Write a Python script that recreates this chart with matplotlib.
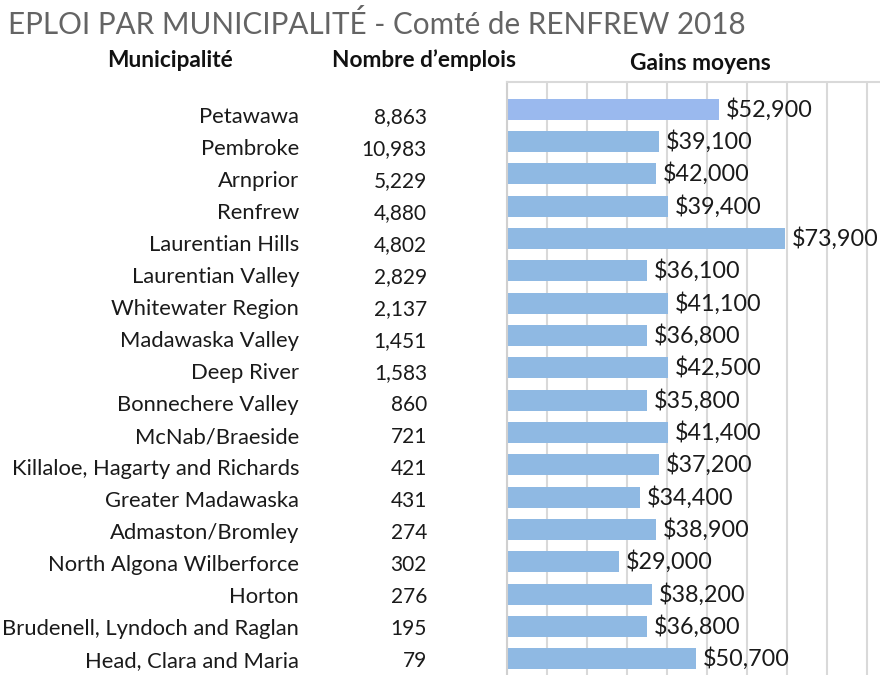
import matplotlib.pyplot as plt

# ---- Data ----
municipalities = [
    'Petawawa', 'Pembroke', 'Arnprior', 'Renfrew', 'Laurentian Hills',
    'Laurentian Valley', 'Whitewater Region', 'Madawaska Valley', 'Deep River',
    'Bonnechere Valley', 'McNab/Braeside', 'Killaloe, Hagarty and Richards',
    'Greater Madawaska', 'Admaston/Bromley', 'North Algona Wilberforce',
    'Horton', 'Brudenell, Lyndoch and Raglan', 'Head, Clara and Maria',
]
jobs = [8863, 10983, 5229, 4880, 4802, 2829, 2137, 1451, 1583,
        860, 721, 421, 431, 274, 302, 276, 195, 79]
earnings = [52900, 39100, 42000, 39400, 73900, 36100, 41100, 36800, 42500,
            35800, 41400, 37200, 34400, 38900, 29000, 38200, 36800, 50700]
# bar lengths as drawn in the original graphic (not exactly proportional to labels)
bar_lengths = [53000, 38000, 37300, 40400, 69600, 35000, 40250, 35000, 40250,
               35000, 40250, 38000, 33300, 37300, 28000, 36300, 35000, 47300]

W, H = 880, 675
fig = plt.figure(figsize=(W / 100, H / 100), dpi=100)
plt.rcParams['font.family'] = ['Lato', 'DejaVu Sans']

# bar axes
ax_left, ax_top = 506.7, 82
ax = fig.add_axes([ax_left / W, 0, 1 - ax_left / W, (H - ax_top) / H])

ypos = list(range(len(municipalities)))
colors = ['#9ab9ee'] + ['#8fb9e3'] * (len(municipalities) - 1)
ax.barh(ypos, bar_lengths, height=0.65, color=colors, zorder=2)

ax.set_xlim(0, 93330)
ax.set_ylim(17.505, -0.845)
ax.set_xticks(range(0, 90001, 10000))
ax.grid(axis='x', color='#d9d9d9', linewidth=1.5, zorder=0)
ax.tick_params(left=False, bottom=False, labelleft=False, labelbottom=False)
for side in ['right', 'bottom']:
    ax.spines[side].set_visible(False)
ax.spines['top'].set_color('#d9d9d9')
ax.spines['top'].set_linewidth(1.5)
ax.spines['left'].set_color('#d0d0d0')
ax.spines['left'].set_linewidth(1.5)

for y, length, val in zip(ypos, bar_lengths, earnings):
    ax.annotate(f'${val:,}', (length, y), xytext=(4.8, 0), textcoords='offset points',
                va='center', ha='left', fontsize=16.8, color='#1a1a1a')

# left columns (text rows sit on a 32 px pitch, baseline of first row at 123 px)
row_pitch, first_baseline = 32.0, 123.3
for i, (name, n) in enumerate(zip(municipalities, jobs)):
    yb = 1 - (first_baseline + row_pitch * i) / H
    fig.text(299 / W, yb, name, ha='right', va='baseline',
             fontsize=15.8, color='#1a1a1a')
    fig.text(427 / W, yb, f'{n:,}', ha='right', va='baseline',
             fontsize=15, color='#1a1a1a')

# title and column headers
fig.text(8 / W, 1 - 24 / H, 'EPLOI PAR MUNICIPALITÉ - Comté de RENFREW 2018',
         ha='left', va='center', fontsize=21.3, color='#646464')
fig.text(170 / W, 1 - 67 / H, 'Municipalité', ha='center', va='baseline',
         fontsize=16.3, fontweight='bold', color='#111111')
fig.text(424 / W, 1 - 67 / H, 'Nombre d’emplois', ha='center', va='baseline',
         fontsize=16.3, fontweight='bold', color='#111111')
fig.text(700 / W, 1 - 70 / H, 'Gains moyens', ha='center', va='baseline',
         fontsize=16.3, fontweight='bold', color='#111111')

fig.savefig('out.png', dpi=100)
